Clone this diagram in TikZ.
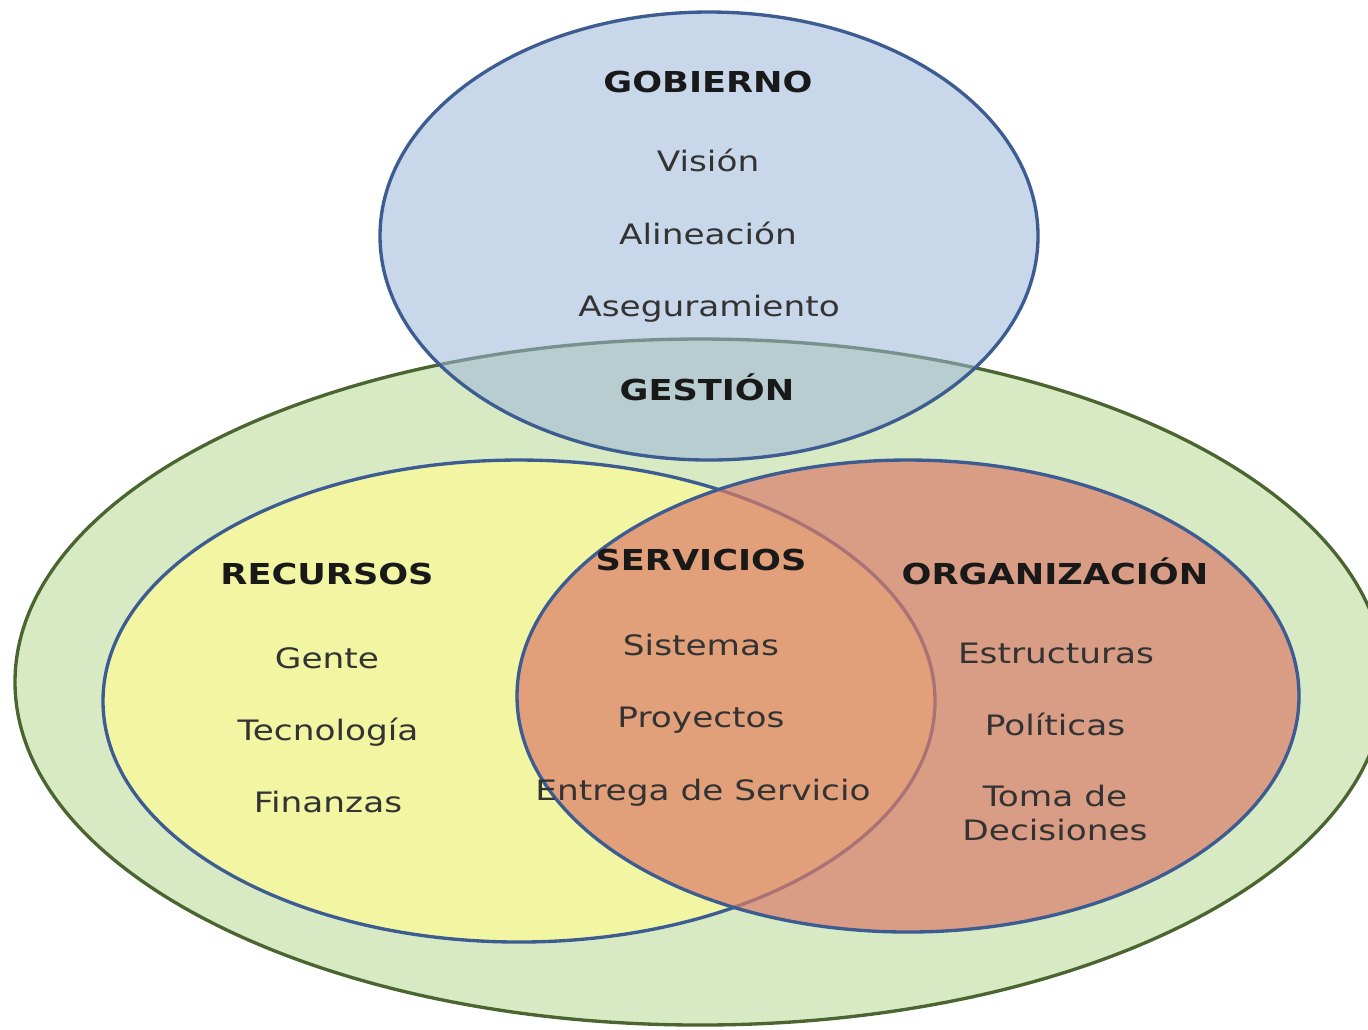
\documentclass[tikz,border=0pt]{standalone}
\usepackage{fontspec}
\setmainfont[FakeStretch=1.22]{DejaVu Sans}
\usepackage{xcolor}
\usepackage{tikz}
\definecolor{gestionfill}{HTML}{D7EAC4}
\definecolor{gestionline}{HTML}{4A6530}
\definecolor{recursosfill}{HTML}{F2F6A2}
\definecolor{orgfill}{HTML}{DA7C6A}
\definecolor{gobiernofill}{HTML}{9DB6D9}
\definecolor{setline}{HTML}{3D5C92}
\definecolor{itemtext}{HTML}{333333}

\begin{document}
\begin{tikzpicture}[
    x = 0.01cm, y = -0.01cm,
    title/.style = {anchor = base, inner sep = 0pt, text = black!90, font = \fontsize{8.2}{9}\selectfont\bfseries},
    item/.style = {anchor = base, inner sep = 0pt, text = itemtext, align = center, font = \fontsize{8}{9.7}\selectfont},
    set/.style = {draw = setline, line width = 0.95pt},
    ]
    \useasboundingbox (0,0) rectangle (1368,1029);

    % draw the sets
    \path [set, draw = gestionline, fill = gestionfill] (700,682) ellipse [x radius = 685, y radius = 343];
    \path [set, fill = recursosfill] (519,701) ellipse [x radius = 416, y radius = 241];
    \path [set, fill = orgfill, fill opacity = 0.7] (908,696) ellipse [x radius = 391, y radius = 236];
    \path [set, fill = gobiernofill, fill opacity = 0.55] (709,236) ellipse [x radius = 329, y radius = 224];

    % gobierno
    \node [title] (gobierno) at (708,92) {GOBIERNO};
    \node [item] (vision) at (708,171) {Visión};
    \node [item] (alineacion) at (708,244) {Alineación};
    \node [item] (aseguramiento) at (709,316) {Aseguramiento};
    \node [title] (gestion) at (707,400) {GESTIÓN};

    % recursos
    \node [title] (recursos) at (327,584) {RECURSOS};
    \node [item] (gente) at (327,668) {Gente};
    \node [item] (tecnologia) at (328,740) {Tecnología};
    \node [item] (finanzas) at (328,812) {Finanzas};

    % servicios
    \node [title] (servicios) at (701,570) {SERVICIOS};
    \node [item] (sistemas) at (701,655) {Sistemas};
    \node [item] (proyectos) at (701,727) {Proyectos};
    \node [item] (entrega) at (703,800) {Entrega de Servicio};

    % organizacion
    \node [title] (organizacion) at (1055,584) {ORGANIZACIÓN};
    \node [item] (estructuras) at (1056,663) {Estructuras};
    \node [item] (politicas) at (1055,735) {Políticas};
    \node [item, anchor = north] (decisiones) at (1055,784) {Toma de\\Decisiones};
\end{tikzpicture}
\end{document}
